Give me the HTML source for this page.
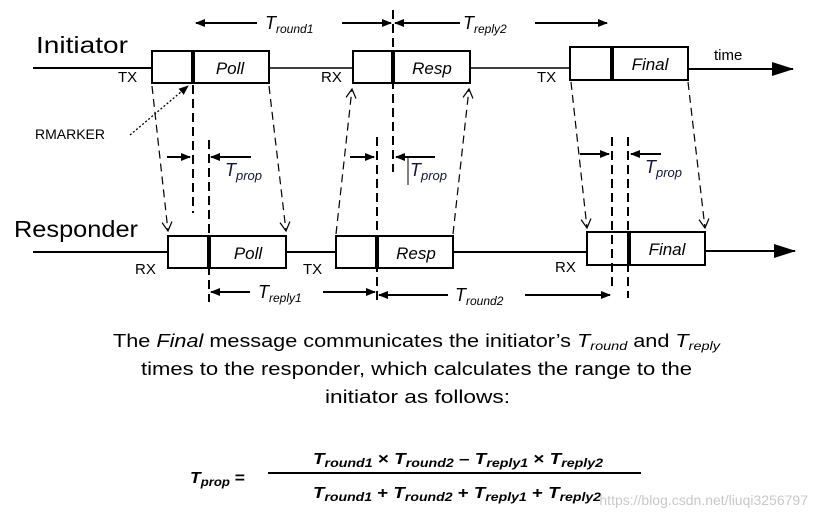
<!DOCTYPE html>
<html><head><meta charset="utf-8"><style>
html,body{margin:0;padding:0;background:#fff;}
svg{display:block;font-family:"Liberation Sans",sans-serif;}
</style></head><body>
<svg width="817" height="520" viewBox="0 0 817 520" xmlns="http://www.w3.org/2000/svg">
<defs>
<marker id="fa" markerWidth="10" markerHeight="8" refX="9" refY="4" orient="auto" markerUnits="userSpaceOnUse"><path d="M0,0 L10,4 L0,8 z" fill="#000"/></marker>
<marker id="oa" markerWidth="12" markerHeight="12" refX="10" refY="6" orient="auto" markerUnits="userSpaceOnUse"><path d="M1,1 L10,6 L1,11" fill="none" stroke="#000" stroke-width="1.2"/></marker>
<marker id="big" markerWidth="22" markerHeight="14" refX="21" refY="7" orient="auto" markerUnits="userSpaceOnUse"><path d="M0,0 L22,7 L0,14 z" fill="#000"/></marker>
</defs>
<g fill="#000">
<line x1="33" y1="68" x2="152" y2="68" stroke="#000" stroke-width="2"/>
<line x1="269" y1="68" x2="353" y2="68" stroke="#000" stroke-width="1.5"/>
<line x1="470" y1="68" x2="570" y2="68" stroke="#000" stroke-width="1.5"/>
<line x1="688" y1="69" x2="793" y2="69" stroke="#000" stroke-width="2" marker-end="url(#big)"/>
<line x1="33" y1="252" x2="168" y2="252" stroke="#000" stroke-width="2"/>
<line x1="286" y1="252" x2="336" y2="252" stroke="#000" stroke-width="2"/>
<line x1="453" y1="252" x2="587" y2="252" stroke="#000" stroke-width="2"/>
<line x1="705" y1="251" x2="795" y2="251" stroke="#000" stroke-width="2" marker-end="url(#big)"/>
</g>
<g fill="#fff" stroke="#000" stroke-width="2">
<rect x="152" y="51" width="117" height="32"/>
<rect x="353" y="51" width="117" height="32"/>
<rect x="570" y="47" width="118" height="33"/>
<rect x="168" y="236" width="118" height="32"/>
<rect x="336" y="236" width="117" height="32"/>
<rect x="587" y="232" width="118" height="33"/>
</g>
<g stroke="#000" stroke-width="4">
<line x1="193" y1="51" x2="193" y2="83"/>
<line x1="393" y1="51" x2="393" y2="83"/>
<line x1="612" y1="47" x2="612" y2="80"/>
<line x1="209" y1="236" x2="209" y2="268"/>
<line x1="377" y1="236" x2="377" y2="268"/>
<line x1="629" y1="232" x2="629" y2="265"/>
</g>
<g stroke="#000" stroke-width="2" stroke-dasharray="9,5">
<line x1="193" y1="85" x2="193" y2="213"/>
<line x1="209" y1="140" x2="209" y2="302"/>
<line x1="377" y1="137" x2="377" y2="300"/>
<line x1="393" y1="10" x2="393" y2="172"/>
<line x1="612" y1="137" x2="612" y2="290"/>
<line x1="628" y1="137" x2="628" y2="298"/>
</g>
<g stroke="#000" stroke-width="1.2" stroke-dasharray="8,5" fill="none">
<line x1="152" y1="86" x2="168" y2="231" marker-end="url(#oa)"/>
<line x1="269" y1="86" x2="286" y2="231" marker-end="url(#oa)"/>
<line x1="336" y1="234" x2="352" y2="89" marker-end="url(#oa)"/>
<line x1="453" y1="234" x2="469" y2="89" marker-end="url(#oa)"/>
<line x1="571" y1="82" x2="587" y2="228" marker-end="url(#oa)"/>
<line x1="688" y1="82" x2="705" y2="228" marker-end="url(#oa)"/>
</g>
<line x1="130" y1="135" x2="188" y2="86" stroke="#000" stroke-width="1.3" stroke-dasharray="2,2" marker-end="url(#fa)"/>
<g stroke="#000" stroke-width="2">
<line x1="257" y1="23" x2="196" y2="23" marker-end="url(#fa)"/>
<line x1="342" y1="23" x2="391" y2="23" marker-end="url(#fa)"/>
<line x1="460" y1="23" x2="395" y2="23" marker-end="url(#fa)"/>
<line x1="535" y1="23" x2="607" y2="23" marker-end="url(#fa)"/>
<line x1="250" y1="292" x2="211" y2="292" marker-end="url(#fa)"/>
<line x1="323" y1="292" x2="375" y2="292" marker-end="url(#fa)"/>
<line x1="448" y1="295" x2="379" y2="295" marker-end="url(#fa)"/>
<line x1="525" y1="295" x2="610" y2="295" marker-end="url(#fa)"/>
<line x1="167" y1="157" x2="190" y2="157" marker-end="url(#fa)"/>
<line x1="251" y1="157" x2="211" y2="157" marker-end="url(#fa)"/>
<line x1="350" y1="157" x2="374" y2="157" marker-end="url(#fa)"/>
<line x1="435" y1="157" x2="396" y2="157" marker-end="url(#fa)"/>
<line x1="580" y1="154" x2="609" y2="154" marker-end="url(#fa)"/>
<line x1="661" y1="154" x2="631" y2="154" marker-end="url(#fa)"/>
</g>
<line x1="408" y1="158" x2="408" y2="185" stroke="#000" stroke-width="1"/>
<g font-size="18" fill="#000">
<text x="265" y="29" font-style="italic">T<tspan font-size="12" dy="4">round1</tspan></text>
<text x="463" y="29" font-style="italic">T<tspan font-size="12" dy="4">reply2</tspan></text>
<text x="258" y="298" font-style="italic">T<tspan font-size="12" dy="4">reply1</tspan></text>
<text x="455" y="301" font-style="italic">T<tspan font-size="12" dy="4">round2</tspan></text>
<text x="225" y="176" font-style="italic" fill="#14143c">T<tspan font-size="13" dy="4">prop</tspan></text>
<text x="410" y="176" font-style="italic" fill="#14143c">T<tspan font-size="13" dy="4">prop</tspan></text>
<text x="645" y="173" font-style="italic" fill="#14143c">T<tspan font-size="13" dy="4">prop</tspan></text>
</g>
<g fill="#000">
<text x="36" y="53" font-size="23" textLength="92" lengthAdjust="spacingAndGlyphs">Initiator</text>
<text x="14" y="237" font-size="23" textLength="124" lengthAdjust="spacingAndGlyphs">Responder</text>
<text x="714" y="60" font-size="15">time</text>
<text x="35" y="139" font-size="14">RMARKER</text>
<g font-size="15">
<text x="118" y="82">TX</text>
<text x="321" y="82">RX</text>
<text x="537" y="82">TX</text>
<text x="135" y="274">RX</text>
<text x="303" y="274">TX</text>
<text x="555" y="272">RX</text>
</g>
<g font-size="17" font-style="italic" text-anchor="middle">
<text x="230" y="74">Poll</text>
<text x="432" y="74">Resp</text>
<text x="650" y="70">Final</text>
<text x="248" y="259">Poll</text>
<text x="416" y="259">Resp</text>
<text x="667" y="255">Final</text>
</g>
<g font-size="18">
<text x="113" y="347" textLength="607" lengthAdjust="spacingAndGlyphs">The <tspan font-style="italic">Final</tspan> message communicates the initiator’s <tspan font-style="italic">T<tspan font-size="12" dy="3">round</tspan></tspan><tspan dy="-3"> and </tspan><tspan font-style="italic">T<tspan font-size="12" dy="3">reply</tspan></tspan></text>
<text x="141" y="375" textLength="551" lengthAdjust="spacingAndGlyphs">times to the responder, which calculates the range to the</text>
<text x="325" y="403" textLength="185" lengthAdjust="spacingAndGlyphs">initiator as follows:</text>
</g>
<g font-size="16" font-weight="bold" font-style="italic">
<text x="190" y="483" textLength="55" lengthAdjust="spacingAndGlyphs">T<tspan font-size="12" dy="3">prop</tspan><tspan dy="-3" font-style="normal"> =</tspan></text>
<text x="313" y="464" textLength="290" lengthAdjust="spacingAndGlyphs">T<tspan font-size="12" dy="3">round1</tspan><tspan dy="-3" font-style="normal"> × </tspan>T<tspan font-size="12" dy="3">round2</tspan><tspan dy="-3" font-style="normal"> – </tspan>T<tspan font-size="12" dy="3">reply1</tspan><tspan dy="-3" font-style="normal"> × </tspan>T<tspan font-size="12" dy="3">reply2</tspan></text>
<text x="313" y="498" textLength="288" lengthAdjust="spacingAndGlyphs">T<tspan font-size="12" dy="3">round1</tspan><tspan dy="-3" font-style="normal"> + </tspan>T<tspan font-size="12" dy="3">round2</tspan><tspan dy="-3" font-style="normal"> + </tspan>T<tspan font-size="12" dy="3">reply1</tspan><tspan dy="-3" font-style="normal"> + </tspan>T<tspan font-size="12" dy="3">reply2</tspan></text>
</g>
<line x1="268" y1="473" x2="641" y2="473" stroke="#000" stroke-width="2"/>
<text x="808" y="505" font-size="14" fill="#c8c8c8" text-anchor="end">https://blog.csdn.net/liuqi3256797</text>
</g>
</svg>
</body></html>
